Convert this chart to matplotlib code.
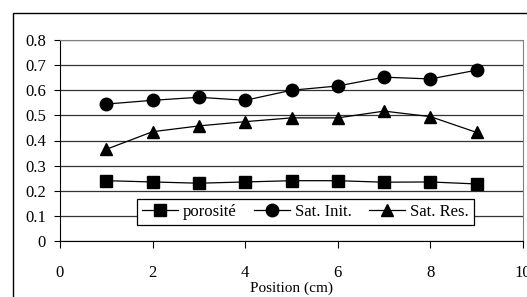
import matplotlib
matplotlib.use("Agg")
import matplotlib.pyplot as plt
from matplotlib.patches import Rectangle

# Data
position = [1, 2, 3, 4, 5, 6, 7, 8, 9]
porosite = [0.24, 0.235, 0.23, 0.235, 0.24, 0.24, 0.234, 0.235, 0.227]
sat_init = [0.545, 0.56, 0.572, 0.56, 0.60, 0.617, 0.652, 0.645, 0.68]
sat_res = [0.365, 0.435, 0.458, 0.475, 0.49, 0.49, 0.517, 0.495, 0.432]
series_labels = ["porosité", "Sat. Init.", "Sat. Res."]

plt.rcParams['font.family'] = ['Liberation Serif', 'DejaVu Serif']

fig = plt.figure(figsize=(5.27, 2.97), dpi=100)
W, H = 527, 297
ax = fig.add_axes([60 / W, (H - 241) / H, (523 - 60) / W, (241 - 40) / H])

# outer chart frame (cut off on the right and bottom like the original)
fig.patches.append(Rectangle((13 / W, -0.1), 1.2, (H - 13) / H + 0.1,
                             transform=fig.transFigure, fill=False,
                             edgecolor='black', linewidth=1.0, clip_on=False))

ax.plot(position, porosite, color='black', lw=0.9, marker='s', ms=8, label=series_labels[0])
ax.plot(position, sat_init, color='black', lw=0.9, marker='o', ms=9, label=series_labels[1])
ax.plot(position, sat_res, color='black', lw=0.9, marker='^', ms=9, label=series_labels[2])

ax.set_xlim(0, 10)
ax.set_ylim(0, 0.8)
ax.set_xticks([0, 2, 4, 6, 8, 10])
ax.set_yticks([i / 10 for i in range(9)])
ax.set_yticklabels(['0', '0.1', '0.2', '0.3', '0.4', '0.5', '0.6', '0.7', '0.8'])
ax.yaxis.grid(True, color='#333333', lw=0.9)
ax.set_axisbelow(True)

for side in ['top', 'right']:
    ax.spines[side].set_color('#808080')
ax.spines['left'].set_color('black')
ax.spines['bottom'].set_color('black')

ax.tick_params(axis='y', direction='out', length=4, labelsize=12, pad=6)
ax.tick_params(axis='x', direction='out', length=5, labelsize=12, pad=12)
ax.set_xlabel('Position (cm)', fontsize=11, labelpad=1)

leg = ax.legend(loc='lower center', bbox_to_anchor=(0.53, 0.04), ncol=3, fontsize=12,
                frameon=True, fancybox=False, edgecolor='black', framealpha=1,
                handlelength=2.2, columnspacing=1.0, handletextpad=0.3,
                borderpad=0.3, markerscale=1.0)
leg.get_frame().set_linewidth(0.9)

fig.savefig('out.png', dpi=100)
